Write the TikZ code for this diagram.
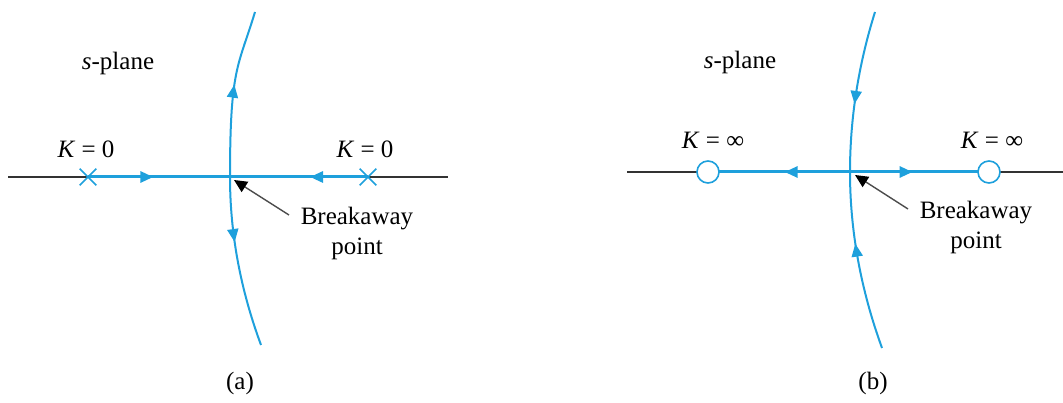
\documentclass[tikz,border=0pt]{standalone}
\usepackage{fontspec}
\setmainfont{Liberation Serif}
\usepackage{xcolor}
\usetikzlibrary{arrows.meta, decorations.markings, shapes.misc}
\definecolor{locusblue}{RGB}{30,160,220}

\begin{document}
\begin{tikzpicture}[
    x=1pt, y=1pt,
    font=\fontsize{25}{30}\selectfont,
    axis/.style={line width=1.5pt, black!80},
    locus/.style={line width=3pt, locusblue},
    branch/.style={line width=2pt, locusblue},
    flow/.style={postaction={decorate}, decoration={markings,
        mark=at position #1 with {\arrow{Triangle[length=13pt, width=11pt]}}}},
    pole/.style={cross out, draw=locusblue, line width=1.6pt, minimum size=15pt, inner sep=0pt},
    zero/.style={circle, draw=locusblue, fill=white, line width=1.6pt, minimum size=22pt, inner sep=0pt},
    lbl/.style={align=center, inner sep=0pt},
    ptr/.style={-{Triangle[length=13pt, width=12pt, black]}, line width=1.4pt, black!70},
]
\useasboundingbox (0,0) rectangle (1063,403);

% === (a): poles, K = 0 ===
\coordinate (axAl) at (8,226);
\coordinate (axAr) at (448,226);
\coordinate (pA1) at (88,226);
\coordinate (pA2) at (368,226);
\coordinate (bpA) at (230,226);
\coordinate (topA) at (255,391);
\coordinate (botA) at (261,58);

\draw[axis] (axAl) -- (axAr);
\draw[locus, flow=0.46] (pA1) -- (bpA);
\draw[locus, flow=0.42] (pA2) -- (bpA);
\draw[branch, flow=0.55] (bpA) .. controls +(0,110) and +(-16.7,-55) .. (topA);
\draw[branch, flow=0.38] (bpA) .. controls +(0,-56) and +(-20.7,56) .. (botA);

\node[pole] (poleA1) at (pA1) {};
\node[pole] (poleA2) at (pA2) {};

\node (splA) at (118,340) {\textit{s}-plane};
\node (kA1) at (86,254) {\textit{K} = 0};
\node (kA2) at (365,254) {\textit{K} = 0};
\node[lbl] (bkA) at (357,170) {Breakaway\\point};
\coordinate (tailA) at (289,188);
\draw[ptr] (tailA) -- ([shift={(4,-3)}]bpA);
\node (capA) at (240,20) {(a)};

% === (b): zeros, K = infinity ===
\coordinate (axBl) at (627,231);
\coordinate (axBr) at (1063,231);
\coordinate (zB1) at (708,231);
\coordinate (zB2) at (989,231);
\coordinate (bpB) at (850,231);
\coordinate (topB) at (875,391);
\coordinate (botB) at (882,55);

\draw[axis] (axBl) -- (axBr);
\draw[locus, flow=0.46] (bpB) -- (zB1);
\draw[locus, flow=0.45] (bpB) -- (zB2);
\draw[branch, flow=0.58] (topB) .. controls +(-16.7,-53.3) and +(0,53.3) .. (bpB);
\draw[branch, flow=0.6] (botB) .. controls +(-21.3,58.7) and +(0,-58.7) .. (bpB);

\node[zero] (zeroB1) at (zB1) {};
\node[zero] (zeroB2) at (zB2) {};

\node (splB) at (740,341) {\textit{s}-plane};
\node (kB1) at (713,263) {\textit{K} = ∞};
\node (kB2) at (992,263) {\textit{K} = ∞};
\node[lbl] (bkB) at (976,176) {Breakaway\\point};
\coordinate (tailB) at (908,194);
\draw[ptr] (tailB) -- ([shift={(5,-3)}]bpB);
\node (capB) at (873,20) {(b)};

\end{tikzpicture}
\end{document}
